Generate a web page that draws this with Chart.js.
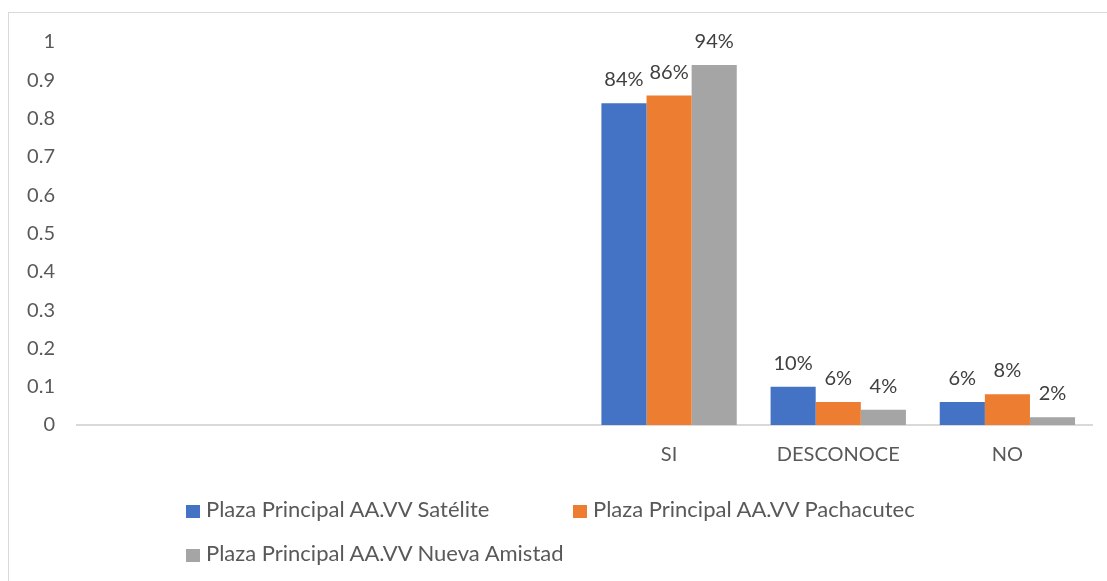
<!DOCTYPE html>
<html>
<head>
<meta charset="utf-8">
<script src="https://cdn.jsdelivr.net/npm/chart.js@4.4.1/dist/chart.umd.min.js"></script>
<style>
  html, body { margin: 0; padding: 0; background: #ffffff; }
  #wrap { position: relative; width: 1107px; height: 581px; overflow: hidden; background: #fff; }
  #frame { position: absolute; left: 8px; top: 12px; width: 1200px; height: 700px; border: 1px solid #d9d9d9; box-sizing: border-box; }
  #chartBox { position: absolute; left: 0; top: 0; width: 1107px; height: 581px; }
  .leg { position: absolute; font-family: Lato, "Liberation Sans", sans-serif; font-size: 22px; color: #595959; white-space: nowrap; line-height: 24px; }
  .leg i { display: inline-block; width: 14px; height: 13px; margin-right: 6px; vertical-align: -1px; }
</style>
</head>
<body>
<div id="wrap">
  <div id="frame"></div>
  <div id="chartBox"><canvas id="c"></canvas></div>
  <div id="legend"></div>
</div>
<script>
const categories = ['', '', '', 'SI', 'DESCONOCE', 'NO'];
const seriesNames = ['Plaza Principal AA.VV Satélite', 'Plaza Principal AA.VV Pachacutec', 'Plaza Principal AA.VV Nueva Amistad'];
const satelite = [null, null, null, 0.84, 0.10, 0.06];
const pachacutec = [null, null, null, 0.86, 0.06, 0.08];
const nuevaAmistad = [null, null, null, 0.94, 0.04, 0.02];
const yTicks = ['0', '0.1', '0.2', '0.3', '0.4', '0.5', '0.6', '0.7', '0.8', '0.9', '1'];
const colors = ['#4472C4', '#ED7D31', '#A5A5A5'];

const FONT = 'Lato, "Liberation Sans", sans-serif';

const dataLabels = {
  id: 'dataLabels',
  afterDatasetsDraw(chart) {
    const ctx = chart.ctx;
    ctx.save();
    ctx.font = '20px ' + FONT;
    ctx.fillStyle = '#404040';
    ctx.textAlign = 'center';
    ctx.textBaseline = 'alphabetic';
    chart.data.datasets.forEach((ds, di) => {
      const meta = chart.getDatasetMeta(di);
      meta.data.forEach((el, i) => {
        const v = ds.data[i];
        if (v === null || v === undefined) return;
        ctx.fillText(Math.round(v * 100) + '%', el.x, el.y - 17);
      });
    });
    ctx.restore();
  }
};

const seriesData = [satelite, pachacutec, nuevaAmistad];

new Chart(document.getElementById('c'), {
  type: 'bar',
  data: {
    labels: categories,
    datasets: seriesData.map((d, i) => ({
      label: seriesNames[i],
      data: d,
      backgroundColor: colors[i],
      borderWidth: 0,
      categoryPercentage: 0.8,
      barPercentage: 1.0
    }))
  },
  options: {
    responsive: true,
    maintainAspectRatio: false,
    animation: false,
    layout: { padding: { left: 0, top: 42, right: 15, bottom: 0 } },
    plugins: {
      legend: { display: false },
      tooltip: { enabled: false }
    },
    scales: {
      x: {
        grid: { display: false, drawTicks: false },
        border: { display: true, color: '#d9d9d9', width: 2 },
        ticks: { color: '#595959', font: { family: FONT, size: 20 }, padding: 18, maxRotation: 0, autoSkip: false },
        afterFit(s) { s.height = 156; }
      },
      y: {
        min: 0, max: 1,
        grid: { display: false, drawTicks: false },
        border: { display: false },
        ticks: {
          stepSize: 0.1,
          color: '#595959',
          font: { family: FONT, size: 20 },
          padding: 22,
          callback: (v, i) => yTicks[i]
        },
        afterFit(s) { s.width = 77; }
      }
    }
  },
  plugins: [dataLabels]
});

// Legend (grid layout like the source: two items on the first row, one on the second)
const legendPos = [[186, 497], [573, 497], [186, 541]];
const legendEl = document.getElementById('legend');
seriesNames.forEach((name, i) => {
  const d = document.createElement('div');
  d.className = 'leg';
  d.style.left = legendPos[i][0] + 'px';
  d.style.top = legendPos[i][1] + 'px';
  const box = document.createElement('i');
  box.style.background = colors[i];
  d.appendChild(box);
  d.appendChild(document.createTextNode(name));
  legendEl.appendChild(d);
});
</script>
</body>
</html>
